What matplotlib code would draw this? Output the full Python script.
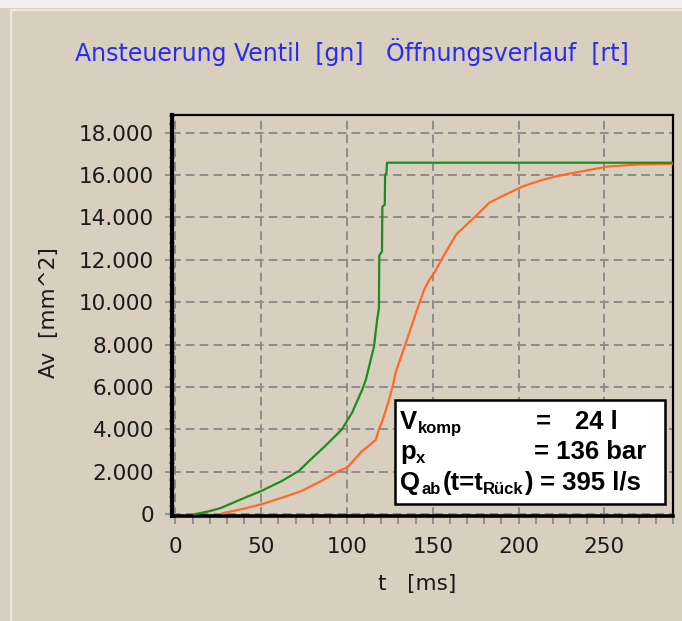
import matplotlib
matplotlib.use("Agg")
import matplotlib.pyplot as plt
from matplotlib.ticker import MultipleLocator, FuncFormatter
from matplotlib.patches import Rectangle

# ---- data ----
green_t = [11, 20, 26.5, 38, 50, 62, 72, 79, 87, 97, 103, 109, 111, 115.7,
           117.6, 118.6, 118.8, 120.4, 120.6, 122.0, 122.2, 123.0, 123.3, 290]
green_v = [0, 150, 300, 700, 1100, 1570, 2050, 2600, 3200, 4000, 4800, 5900,
           6350, 7900, 9200, 9700, 12200, 12400, 14500, 14600, 16000, 16100,
           16580, 16580]

red_t = [27.5, 38, 50, 62, 73.5, 85, 95, 100, 108.8, 116.7, 118.6, 120.6,
         124.5, 126.5, 128.4, 134.3, 140.2, 145, 148, 151, 156, 163.7, 175.5,
         183, 193, 202, 213, 222.5, 232, 252, 270.6, 290]
red_v = [50, 230, 470, 780, 1100, 1570, 2040, 2200, 2980, 3500, 4000, 4400,
         5400, 6000, 6700, 8080, 9500, 10600, 11060, 11400, 12150, 13200,
         14100, 14700, 15100, 15450, 15750, 15950, 16100, 16400, 16500, 16530]

x_ticks = [0, 50, 100, 150, 200, 250]
y_ticks = [0, 2000, 4000, 6000, 8000, 10000, 12000, 14000, 16000, 18000]

title_text = "Ansteuerung Ventil  [gn]   Öffnungsverlauf  [rt]"
xlabel_text = "t   [ms]"
ylabel_text = "Av  [mm^2]"

W, H = 682, 621
BG = "#D8CFBF"
GREEN = "#1E8C1E"
RED = "#FF6A2A"


def fx(px):
    return px / W


def fy(py):
    return 1 - py / H


fig = plt.figure(figsize=(W / 100, H / 100), dpi=100, facecolor=BG)

# window-like bevel
fig.add_artist(Rectangle((0, fy(8)), 1, 8 / H, transform=fig.transFigure,
                         facecolor="#F2EFEA", edgecolor="none"))
fig.add_artist(plt.Line2D([fx(11), fx(11)], [0, fy(10)], transform=fig.transFigure,
                          color="#EEE8DE", lw=1.5))
fig.add_artist(plt.Line2D([fx(11), 1], [fy(10), fy(10)], transform=fig.transFigure,
                          color="#EEE8DE", lw=1.5))

ax = fig.add_axes([fx(172), fy(516), (673 - 172) / W, (516 - 115) / H])
ax.set_facecolor(BG)

ax.plot(red_t, red_v, color=RED, lw=1.6, zorder=3)
ax.plot(green_t, green_v, color=GREEN, lw=1.6, zorder=4)

ax.set_xlim(-2, 290)
ax.set_ylim(-80, 18830)

ax.set_xticks(x_ticks)
ax.set_yticks(y_ticks)
ax.xaxis.set_minor_locator(MultipleLocator(10))
ax.yaxis.set_minor_locator(MultipleLocator(400))
ax.yaxis.set_major_formatter(FuncFormatter(lambda v, p: f"{int(v):,}".replace(",", ".")))

tick_font = ['DejaVu Sans']
for lab in ax.get_xticklabels() + ax.get_yticklabels():
    lab.set_family(tick_font)
    lab.set_fontsize(15.5)
    lab.set_color("#1A1A1A")

ax.tick_params(axis='x', which='both', direction='out', length=6, width=1.3,
               color="#8A8A8A", pad=9)
ax.tick_params(axis='y', which='major', direction='inout', length=10, width=1.3,
               color="#8A8A8A", pad=8)
ax.tick_params(axis='y', which='minor', direction='inout', length=4, width=1.2,
               color="#8A8A8A")

ax.grid(True, which='major', color="#8C8C8C", lw=1.4, linestyle=(0, (4.5, 2.6)))
ax.set_axisbelow(True)

for s in ['top', 'right']:
    ax.spines[s].set_linewidth(1.6)
    ax.spines[s].set_color("black")
ax.spines['left'].set_linewidth(3.0)
ax.spines['bottom'].set_linewidth(2.6)

fig.text(fx(352), fy(52), title_text, color="#2A2AF5", fontsize=17,
         family=['DejaVu Sans'], ha='center', va='center')
fig.text(fx(417), fy(584), xlabel_text, color="#1A1A1A", fontsize=15.5,
         family=tick_font, ha='center', va='center')
fig.text(fx(49), fy(313), ylabel_text, color="#1A1A1A", fontsize=15.5,
         family=tick_font, ha='center', va='center', rotation=90)

# info box
fig.add_artist(Rectangle((fx(395), fy(504)), (665 - 395) / W, (504 - 400) / H,
                         transform=fig.transFigure, facecolor="white",
                         edgecolor="black", lw=1.8, zorder=10))
main = dict(fontsize=18.5, fontweight='bold', family='Liberation Sans',
            color='black', va='baseline', ha='left', zorder=11)
sub = dict(main, fontsize=12)

# line 1
fig.text(fx(400), fy(429), "V", **main)
fig.text(fx(418), fy(433), "komp", **sub)
fig.text(fx(543), fy(429), "=", **dict(main, ha='center'))
fig.text(fx(575), fy(429), "24 l", **main)
# line 2
fig.text(fx(400), fy(459), "p", **main)
fig.text(fx(416), fy(463), "x", **sub)
fig.text(fx(590), fy(459), "= 136 bar", **dict(main, ha='center'))
# line 3
fig.text(fx(400), fy(490), "Q", **main)
fig.text(fx(421.5), fy(494), "ab", **sub)
fig.text(fx(442.5), fy(490), "(t=t", **main)
fig.text(fx(483), fy(494), "Rück", **sub)
fig.text(fx(524), fy(490), ")", **main)
fig.text(fx(590), fy(490), "= 395 l/s", **dict(main, ha='center'))

fig.savefig("out.png", dpi=100, facecolor=BG)
